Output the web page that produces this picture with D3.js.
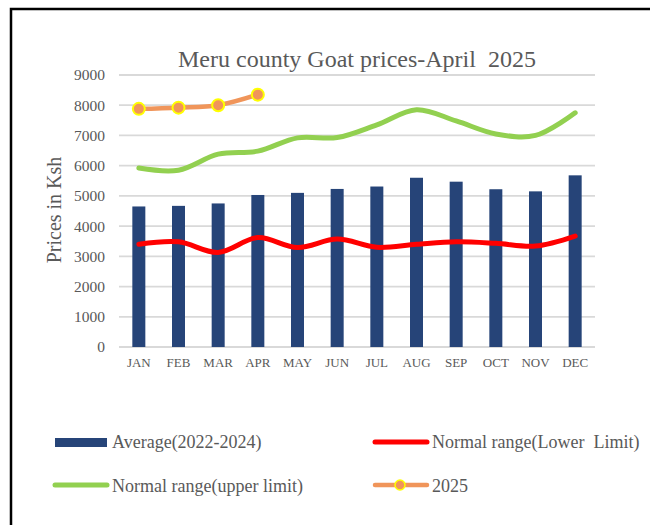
<!DOCTYPE html>
<html><head><meta charset="utf-8">
<script src="https://cdn.jsdelivr.net/npm/d3@7"></script>
<style>body{margin:0;background:#fff}svg{display:block}</style>
</head><body>
<script>
const months = ["JAN","FEB","MAR","APR","MAY","JUN","JUL","AUG","SEP","OCT","NOV","DEC"];
const average = [4650,4670,4750,5030,5100,5230,5310,5600,5470,5220,5150,5680];
const lowerLimit = [3400,3480,3130,3620,3290,3570,3300,3400,3480,3430,3340,3670];
const upperLimit = [5920,5850,6380,6480,6920,6930,7350,7850,7480,7050,7000,7750];
const y2025 = [7880,7920,8000,8350];
const yTicks = [0,1000,2000,3000,4000,5000,6000,7000,8000,9000];

const W=650,H=525;
const svg=d3.select("body").append("svg").attr("width",W).attr("height",H);
svg.append("rect").attr("width",W).attr("height",H).attr("fill","#fff");
svg.append("rect").attr("x",11).attr("y",9).attr("width",W+20).attr("height",H+20)
  .attr("fill","none").attr("stroke","#000").attr("stroke-width",2.5);

const font="'Liberation Serif','Times New Roman',serif";
const x=d3.scaleBand().domain(months).range([119,595]);
const y=d3.scaleLinear().domain([0,9000]).range([347,75]);

// grid
svg.append("g").selectAll("line").data(yTicks).join("line")
  .attr("x1",119).attr("x2",595).attr("y1",d=>y(d)).attr("y2",d=>y(d))
  .attr("stroke","#d9d9d9").attr("stroke-width",1.8);

// y tick labels
svg.append("g").selectAll("text").data(yTicks).join("text")
  .attr("x",105).attr("y",d=>y(d)).attr("dy","0.35em").attr("text-anchor","end")
  .attr("font-family",font).attr("font-size",15.5).attr("fill","#595959").text(d=>d);

// x labels
svg.append("g").selectAll("text").data(months).join("text")
  .attr("x",d=>x(d)+x.bandwidth()/2).attr("y",367).attr("text-anchor","middle")
  .attr("font-family",font).attr("font-size",13).attr("fill","#595959").text(d=>d);

// bars
const bw=13;
svg.append("g").selectAll("rect").data(average).join("rect")
  .attr("x",(d,i)=>x(months[i])+x.bandwidth()/2-bw/2).attr("width",bw)
  .attr("y",d=>y(d)).attr("height",d=>y(0)-y(d)).attr("fill","#264478");

const cx=i=>x(months[i])+x.bandwidth()/2;
const smooth=d3.line().x((d,i)=>cx(i)).y(d=>y(d)).curve(d3.curveCatmullRom.alpha(0.5));
svg.append("path").attr("d",smooth(lowerLimit)).attr("fill","none")
  .attr("stroke","#ff0000").attr("stroke-width",5).attr("stroke-linecap","round");
svg.append("path").attr("d",smooth(upperLimit)).attr("fill","none")
  .attr("stroke","#92d050").attr("stroke-width",5).attr("stroke-linecap","round");
svg.append("path").attr("d",smooth(y2025)).attr("fill","none")
  .attr("stroke","#f0955a").attr("stroke-width",4.5).attr("stroke-linecap","round");
svg.append("g").selectAll("circle").data(y2025).join("circle")
  .attr("cx",(d,i)=>cx(i)).attr("cy",d=>y(d)).attr("r",6)
  .attr("fill","#f0955a").attr("stroke","#ffff00").attr("stroke-width",2);

// title
svg.append("text").attr("x",357).attr("y",67).attr("text-anchor","middle")
  .attr("font-family",font).attr("font-size",24).attr("fill","#595959")
  .style("white-space","pre")
  .text("Meru county Goat prices-April  2025");

// y label
svg.append("text").attr("transform","translate(61,210) rotate(-90)").attr("text-anchor","middle")
  .attr("font-family",font).attr("font-size",20).attr("fill","#595959").text("Prices in Ksh");

// legend
const lg=svg.append("g").attr("font-family",font).attr("font-size",18).attr("fill","#595959");
lg.append("rect").attr("x",55).attr("y",438).attr("width",52).attr("height",9).attr("fill","#264478");
lg.append("text").attr("x",112).attr("y",442).attr("dy","0.35em").text("Average(2022-2024)");
lg.append("line").attr("x1",375).attr("x2",427).attr("y1",442).attr("y2",442)
  .attr("stroke","#ff0000").attr("stroke-width",5).attr("stroke-linecap","round");
lg.append("text").attr("x",432).attr("y",442).attr("dy","0.35em").style("white-space","pre").text("Normal range(Lower  Limit)");
lg.append("line").attr("x1",55).attr("x2",107).attr("y1",485).attr("y2",485)
  .attr("stroke","#92d050").attr("stroke-width",5).attr("stroke-linecap","round");
lg.append("text").attr("x",112).attr("y",486).attr("dy","0.35em").text("Normal range(upper limit)");
lg.append("line").attr("x1",375).attr("x2",427).attr("y1",485).attr("y2",485)
  .attr("stroke","#f0955a").attr("stroke-width",4.5).attr("stroke-linecap","round");
lg.append("circle").attr("cx",400).attr("cy",485).attr("r",5)
  .attr("fill","#f0955a").attr("stroke","#ffff00").attr("stroke-width",1.5);
lg.append("text").attr("x",432).attr("y",486).attr("dy","0.35em").text("2025");
</script>
</body></html>
